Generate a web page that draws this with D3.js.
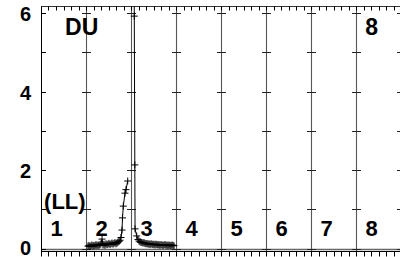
<!DOCTYPE html>
<html><head><meta charset="utf-8">
<script src="https://cdn.jsdelivr.net/npm/d3@7"></script>
<style>html,body{margin:0;padding:0;background:#fff;overflow:hidden}</style>
</head><body>
<svg id="c" width="400" height="257"></svg>
<script>
// ---- data ----
const segmentLabels = ["1","2","3","4","5","6","7","8"];
const yTickValues = [0, 2, 4, 6];
const gridYValues = [0, 1, 2, 3, 4, 5, 6];
const leftX = [1.044,1.067,1.089,1.111,1.133,1.156,1.178,1.200,1.222,1.244,1.267,1.289,1.311,1.333,1.356,1.378,1.400,1.422,1.444,1.467,1.489,1.511,1.533,1.556,1.578,1.600,1.622,1.644,1.667,1.689,1.711,1.733,1.756,1.778,1.800,1.811,1.829,1.867,1.889,1.927];
const leftY = [0.06,0.08,0.05,0.07,0.09,0.06,0.08,0.07,0.10,0.07,0.09,0.08,0.10,0.12,0.24,0.09,0.11,0.08,0.12,0.10,0.11,0.13,0.10,0.12,0.14,0.11,0.13,0.15,0.12,0.14,0.16,0.18,0.21,0.28,0.47,0.78,1.08,1.41,1.50,1.72];
const rightX = [2.071,2.073,2.085,2.090,2.127,2.156,2.178,2.200,2.222,2.244,2.267,2.289,2.311,2.333,2.356,2.378,2.400,2.422,2.444,2.467,2.489,2.511,2.533,2.556,2.578,2.600,2.622,2.644,2.667,2.689,2.711,2.733,2.756,2.778,2.800,2.822,2.844,2.867,2.889,2.911,2.933,2.956];
const rightY = [7.00,5.92,2.13,0.50,0.32,0.23,0.19,0.17,0.16,0.15,0.14,0.15,0.13,0.12,0.13,0.11,0.12,0.10,0.12,0.11,0.10,0.11,0.09,0.11,0.10,0.09,0.10,0.08,0.10,0.09,0.08,0.09,0.10,0.08,0.09,0.07,0.09,0.08,0.07,0.09,0.08,0.07];
const cornerLabels = [{t:"DU", xv:0.905, yv:5.45}, {t:"8", xv:7.345, yv:5.45}];
const sideLabel = {t:"(LL)", xv:0.53, yv:1.0};

// ---- layout ----
const W = 400, H = 257;
const x = d3.scaleLinear().domain([0, 8]).range([41, 401]);
const y = d3.scaleLinear().domain([0, 6]).range([248.5, 13]);
const frameTop = 6.5, frameBottom = 251.5;
const font = "'Liberation Sans', Arial, Helvetica, sans-serif";

const svg = d3.select("#c");
svg.append("rect").attr("width", W).attr("height", H).attr("fill", "#fff");

svg.append("defs").append("clipPath").attr("id", "clip")
  .append("rect").attr("x", x(0)).attr("y", frameTop).attr("width", x(8) - x(0)).attr("height", frameBottom - frameTop);

const g = svg.append("g");

// zero line
g.append("line").attr("x1", x(0)).attr("x2", x(8)).attr("y1", Math.round(y(0)) + 0.5).attr("y2", Math.round(y(0)) + 0.5)
  .attr("stroke", "#666").attr("stroke-width", 1.5);

// vertical grid lines at integer x
const gridX = d3.range(1, 9);
g.selectAll(".vg").data(gridX).join("line")
  .attr("x1", d => Math.round(x(d)) + 0.5).attr("x2", d => Math.round(x(d)) + 0.5)
  .attr("y1", frameTop).attr("y2", frameBottom)
  .attr("stroke", "#555").attr("stroke-width", 1.1);

// crosses on grid lines
gridX.forEach(gx => {
  g.selectAll(null).data(gridYValues).join("line")
    .attr("x1", Math.round(x(gx)) - 4).attr("x2", Math.round(x(gx)) + 5)
    .attr("y1", d => Math.round(y(d)) + 0.5).attr("y2", d => Math.round(y(d)) + 0.5)
    .attr("stroke", "#222").attr("stroke-width", 1);
});

// left axis
g.append("line").attr("x1", x(0) + 0.5).attr("x2", x(0) + 0.5).attr("y1", frameTop).attr("y2", frameBottom)
  .attr("stroke", "#000").attr("stroke-width", 1);
g.selectAll(".lt").data(gridYValues).join("line")
  .attr("x1", x(0)).attr("x2", x(0) + 5)
  .attr("y1", d => Math.round(y(d)) + 0.5).attr("y2", d => Math.round(y(d)) + 0.5)
  .attr("stroke", "#000");

// top & bottom frame lines
g.append("line").attr("x1", x(0)).attr("x2", x(8)).attr("y1", frameTop).attr("y2", frameTop).attr("stroke", "#333").attr("stroke-width", 1.2);
g.append("line").attr("x1", x(0)).attr("x2", x(8)).attr("y1", frameBottom).attr("y2", frameBottom).attr("stroke", "#000").attr("stroke-width", 1);

// minor ticks (1/6 unit)
const minor = d3.range(0, 49).map(i => i / 6);
g.selectAll(".tt").data(minor).join("line")
  .attr("x1", d => Math.round(x(d)) + 0.5).attr("x2", d => Math.round(x(d)) + 0.5)
  .attr("y1", frameTop).attr("y2", frameTop + 4).attr("stroke", "#000");
g.selectAll(".bt").data(minor).join("line")
  .attr("x1", d => Math.round(x(d)) + 0.5).attr("x2", d => Math.round(x(d)) + 0.5)
  .attr("y1", frameBottom).attr("y2", frameBottom + 5).attr("stroke", "#000");

// y tick labels
svg.selectAll(".yl").data(yTickValues).join("text")
  .attr("x", 31).attr("y", d => Math.min(y(d) + 8, H - 2))
  .attr("text-anchor", "end")
  .attr("font-family", font).attr("font-weight", "bold").attr("font-size", 20)
  .attr("fill", "#000").text(d => d);

// data
const plot = g.append("g").attr("clip-path", "url(#clip)");
const line = d3.line().x(d => x(d[0])).y(d => y(d[1]));
const branches = [d3.zip(leftX, leftY), d3.zip(rightX, rightY)];
branches.forEach(pts => {
  plot.append("path").attr("d", line(pts)).attr("fill", "none").attr("stroke", "#000").attr("stroke-width", 1);
  plot.selectAll(null).data(pts).join("path")
    .attr("d", d => { const cx = x(d[0]), cy = y(d[1]); return `M${cx-3.5},${cy}H${cx+3.5}M${cx},${cy-3.5}V${cy+3.5}`; })
    .attr("stroke", "#000").attr("stroke-width", 1).attr("fill", "none");
});

// segment labels
svg.selectAll(".sl").data(segmentLabels).join("text")
  .attr("x", (d, i) => x(i + 0.345)).attr("y", y(0) - 12.5)
  .attr("text-anchor", "middle")
  .attr("font-family", font).attr("font-weight", "bold").attr("font-size", 22)
  .attr("fill", "#000").text(d => d);

svg.selectAll(".cl").data(cornerLabels).join("text")
  .attr("x", d => x(d.xv)).attr("y", d => y(d.yv))
  .attr("text-anchor", "middle")
  .attr("font-family", font).attr("font-weight", "bold").attr("font-size", 23)
  .attr("fill", "#000").text(d => d.t);

svg.append("text").attr("x", x(sideLabel.xv)).attr("y", y(sideLabel.yv))
  .attr("text-anchor", "middle")
  .attr("font-family", font).attr("font-weight", "bold").attr("font-size", 22)
  .attr("fill", "#000").text(sideLabel.t);
</script>
</body></html>
